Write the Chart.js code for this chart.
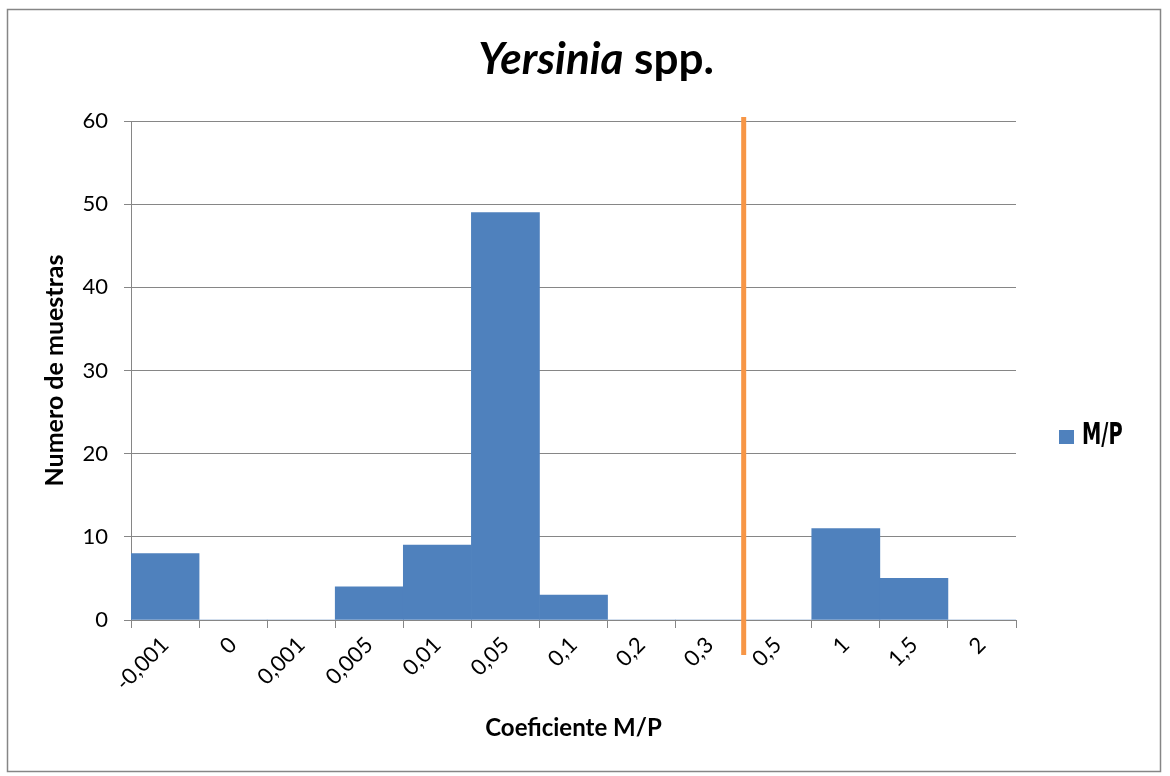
<!DOCTYPE html>
<html>
<head>
<meta charset="utf-8">
<script src="https://cdn.jsdelivr.net/npm/chart.js@4.4.1/dist/chart.umd.min.js"></script>
<style>
  html, body { margin: 0; padding: 0; background: #fff; }
  #wrap { width: 1170px; height: 776px; }
</style>
</head>
<body>
<div id="wrap"><canvas id="histChart" width="1170" height="776"></canvas></div>
<script>
// data
const categories = ['-0,001', '0', '0,001', '0,005', '0,01', '0,05', '0,1', '0,2', '0,3', '0,5', '1', '1,5', '2'];
const counts = [8, 0, 0, 4, 9, 49, 3, 0, 0, 0, 11, 5, 0];
const yTicks = [0, 10, 20, 30, 40, 50, 60];
const seriesName = 'M/P';
const cutoffBetween = ['0,3', '0,5'];

const FONT = 'Lato, "Open Sans", sans-serif';
const AXIS_GRAY = '#868686';

// outer frame like the Excel chart area
const framePlugin = {
  id: 'frame',
  beforeDraw(chart) {
    const ctx = chart.ctx;
    ctx.save();
    ctx.fillStyle = '#fff';
    ctx.fillRect(0, 0, chart.width, chart.height);
    ctx.strokeStyle = AXIS_GRAY;
    ctx.lineWidth = 1.5;
    ctx.strokeRect(7.5, 9.5, 1153, 762);
    ctx.restore();
  }
};

// title with italic genus name
const titlePlugin = {
  id: 'mixedTitle',
  afterDraw(chart) {
    const ctx = chart.ctx;
    const part1 = 'Yersinia';
    const part2 = ' spp.';
    const size = 44;
    ctx.save();
    ctx.fillStyle = '#000';
    ctx.textBaseline = 'alphabetic';
    ctx.font = 'italic bold ' + size + 'px ' + FONT;
    const w1 = ctx.measureText(part1).width;
    ctx.font = 'bold ' + size + 'px ' + FONT;
    const w2 = ctx.measureText(part2).width;
    const cx = 596;
    const x = cx - (w1 + w2) / 2;
    ctx.font = 'italic bold ' + size + 'px ' + FONT;
    ctx.fillText(part1, x, 74);
    ctx.font = 'bold ' + size + 'px ' + FONT;
    ctx.fillText(part2, x + w1, 74);
    ctx.restore();
  }
};

// orange cut-off line between two categories
const cutoffPlugin = {
  id: 'cutoff',
  afterDatasetsDraw(chart) {
    const xs = chart.scales.x;
    const ys = chart.scales.y;
    const i = categories.indexOf(cutoffBetween[0]);
    const j = categories.indexOf(cutoffBetween[1]);
    const x = (xs.getPixelForValue(i) + xs.getPixelForValue(j)) / 2;
    const top = ys.getPixelForValue(yTicks[yTicks.length - 1]) - 4;
    const bottom = chart.chartArea.bottom + 35;
    const ctx = chart.ctx;
    ctx.save();
    ctx.strokeStyle = '#F79646';
    ctx.lineWidth = 5;
    ctx.beginPath();
    ctx.moveTo(x, top);
    ctx.lineTo(x, bottom);
    ctx.stroke();
    ctx.restore();
  }
};

// legend on the right
const legendPlugin = {
  id: 'sideLegend',
  afterDraw(chart) {
    const ctx = chart.ctx;
    const color = chart.data.datasets[0].backgroundColor;
    ctx.save();
    ctx.fillStyle = color;
    ctx.fillRect(1059, 430, 15, 14);
    ctx.fillStyle = '#000';
    ctx.textBaseline = 'middle';
    ctx.translate(1082, 436);
    ctx.scale(0.72, 1);
    ctx.font = 'bold 30px "Liberation Sans Narrow", "DejaVu Sans Condensed", sans-serif';
    ctx.fillText(chart.data.datasets[0].label, 0, 0);
    ctx.restore();
  }
};

new Chart(document.getElementById('histChart'), {
  type: 'bar',
  data: {
    labels: categories,
    datasets: [{
      label: seriesName,
      data: counts,
      backgroundColor: '#4F81BD',
      borderWidth: 0,
      barPercentage: 1,
      categoryPercentage: 1
    }]
  },
  options: {
    responsive: false,
    animation: false,
    layout: {
      padding: { top: 121, right: 154, left: 0, bottom: 0 }
    },
    plugins: {
      legend: { display: false },
      title: { display: false },
      tooltip: { enabled: false }
    },
    scales: {
      x: {
        offset: true,
        grid: {
          display: true,
          offset: true,
          drawOnChartArea: false,
          drawTicks: true,
          tickLength: 8,
          color: AXIS_GRAY
        },
        border: { display: true, color: AXIS_GRAY, width: 1 },
        ticks: {
          minRotation: 45,
          maxRotation: 45,
          autoSkip: false,
          color: '#000',
          padding: 4,
          font: { family: FONT, size: 22 }
        },
        title: {
          display: true,
          text: 'Coeficiente M/P',
          color: '#000',
          font: { family: FONT, size: 24, weight: 'bold' },
          padding: { top: 0, bottom: 33 }
        },
        afterFit(scale) { scale.height = 156; }
      },
      y: {
        min: 0,
        max: 60,
        afterBuildTicks(scale) {
          scale.ticks = yTicks.map(v => ({ value: v }));
        },
        grid: {
          color: AXIS_GRAY,
          lineWidth: 1,
          drawTicks: true,
          tickLength: 7
        },
        border: { display: true, color: AXIS_GRAY, width: 1 },
        ticks: {
          color: '#000',
          padding: 16,
          font: { family: FONT, size: 22 }
        },
        title: {
          display: true,
          text: 'Numero de muestras',
          color: '#000',
          font: { family: FONT, size: 25, weight: 'bold' },
          padding: { top: 40, bottom: 0 }
        },
        afterFit(scale) { scale.width = 131; }
      }
    }
  },
  plugins: [framePlugin, cutoffPlugin, titlePlugin, legendPlugin]
});
</script>
</body>
</html>
